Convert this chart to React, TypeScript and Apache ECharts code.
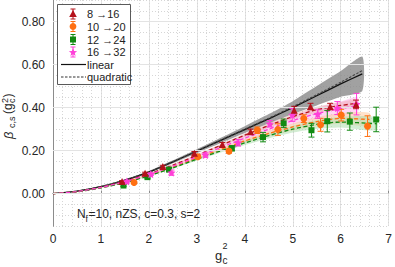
import React, { useEffect, useRef } from "react";
import * as echarts from "echarts";

// ---------- data ----------
const yMajorTicks = [0, 0.2, 0.4, 0.6, 0.8];

const redX = [1.44, 1.92, 2.29, 2.95, 3.53, 4.12, 5.03, 5.37, 5.78, 6.32];
const redY = [0.057, 0.095, 0.126, 0.188, 0.229, 0.288, 0.388, 0.405, 0.405, 0.415];
const redE = [0.004, 0.005, 0.006, 0.008, 0.009, 0.012, 0.018, 0.015, 0.015, 0.02];

const orangeX = [1.69, 3.02, 3.67, 4.26, 4.69, 5.23, 5.58, 6.01, 6.56];
const orangeY = [0.052, 0.172, 0.198, 0.295, 0.298, 0.349, 0.32, 0.365, 0.314];
const orangeE = [0.005, 0.008, 0.01, 0.015, 0.027, 0.018, 0.03, 0.027, 0.048];

const greenX = [1.47, 1.97, 2.42, 3.73, 4.38, 4.81, 5.39, 5.72, 6.19, 6.74];
const greenY = [0.038, 0.077, 0.112, 0.211, 0.263, 0.327, 0.295, 0.337, 0.335, 0.345];
const greenE = [0.004, 0.005, 0.007, 0.012, 0.022, 0.02, 0.032, 0.05, 0.04, 0.057];

const pinkX = [1.54, 2.04, 2.47, 3.18, 3.86, 4.52, 4.99, 5.52, 5.93, 6.33];
const pinkY = [0.057, 0.091, 0.098, 0.18, 0.237, 0.325, 0.366, 0.37, 0.398, 0.416];
const pinkE = [0.006, 0.006, 0.012, 0.01, 0.015, 0.015, 0.03, 0.02, 0.03, 0.05];

const fitX = [0, 0.5, 1, 1.5, 2, 2.5, 3, 3.5, 4, 4.5, 5, 5.5, 6, 6.45];
const linearFit = [0, 0.012, 0.033, 0.063, 0.1, 0.148, 0.198, 0.248, 0.298, 0.348, 0.4, 0.455, 0.51, 0.557];
const quadFit = [0, 0.012, 0.034, 0.064, 0.101, 0.149, 0.199, 0.25, 0.3, 0.351, 0.404, 0.46, 0.518, 0.572];
const grayBand = [0, 0.001, 0.002, 0.003, 0.005, 0.007, 0.009, 0.012, 0.016, 0.022, 0.03, 0.045, 0.06, 0.08];

const redFitX = [0, 0.5, 1, 1.5, 2, 2.5, 3, 3.5, 4, 4.5, 5, 5.5, 6, 6.35];
const redFit = [0, 0.01, 0.03, 0.058, 0.092, 0.133, 0.178, 0.225, 0.272, 0.317, 0.358, 0.39, 0.41, 0.42];
const redBand = [0, 0, 0.001, 0.002, 0.003, 0.004, 0.005, 0.006, 0.008, 0.01, 0.012, 0.014, 0.016, 0.018];

const pinkFitX = [0, 0.5, 1, 1.5, 2, 2.5, 3, 3.5, 4, 4.5, 5, 5.5, 6, 6.35];
const pinkFit = [0, 0.01, 0.029, 0.056, 0.089, 0.128, 0.171, 0.215, 0.258, 0.3, 0.34, 0.372, 0.395, 0.41];
const pinkBand = [0, 0, 0.001, 0.002, 0.003, 0.005, 0.007, 0.009, 0.012, 0.016, 0.02, 0.026, 0.033, 0.04];

const orangeFitX = [0, 0.5, 1, 1.5, 2, 2.5, 3, 3.5, 4, 4.5, 5, 5.5, 6, 6.6];
const orangeFit = [0, 0.009, 0.028, 0.054, 0.086, 0.124, 0.165, 0.206, 0.245, 0.28, 0.31, 0.335, 0.35, 0.345];
const orangeBand = [0, 0, 0.001, 0.002, 0.003, 0.004, 0.006, 0.008, 0.01, 0.013, 0.016, 0.02, 0.025, 0.03];

const greenFitX = [0, 0.5, 1, 1.5, 2, 2.5, 3, 3.5, 4, 4.5, 5, 5.5, 6, 6.75];
const greenFit = [0, 0.009, 0.027, 0.052, 0.083, 0.12, 0.16, 0.199, 0.236, 0.27, 0.3, 0.322, 0.333, 0.325];
const greenBand = [0, 0, 0.001, 0.002, 0.003, 0.004, 0.006, 0.008, 0.01, 0.013, 0.016, 0.02, 0.025, 0.03];

const legendLabels = ["8 \u219216", "10 \u219220", "12 \u219224", "16 \u219232", "linear", "quadratic"];

// ---------- styles ----------
const FONT = "Liberation Sans, Arial, sans-serif";
const RED = "#b5121b";
const ORANGE = "#ff7012";
const GREEN = "#128a12";
const PINK = "#ff3fd8";
const TXT = "#262626";
const STAR_PATH =
  "path://M0,-10 L2.94,-4.05 L9.51,-3.09 L4.76,1.55 L5.88,8.09 L0,5 L-5.88,8.09 L-4.76,1.55 L-9.51,-3.09 L-2.94,-4.05 Z";

function bandSeries(xs: number[], c: number[], h: number[], color: string, opacity: number) {
  return {
    type: "custom",
    silent: true,
    z: 2,
    clip: true,
    data: [[xs[0], c[0]]],
    encode: { x: 0, y: 1 },
    renderItem: (_p: any, api: any) => {
      const up = xs.map((x, i) => api.coord([x, c[i] + h[i]]));
      const lo = xs.map((x, i) => api.coord([x, c[i] - h[i]])).reverse();
      return { type: "polygon", shape: { points: up.concat(lo), smooth: 0.2 }, style: { fill: color, opacity } };
    },
  };
}

function lineSeries(xs: number[], ys: number[], color: string, width: number, dash: any, z: number) {
  return {
    type: "line",
    silent: true,
    z,
    symbol: "none",
    smooth: 0.25,
    data: xs.map((x, i) => [x, ys[i]]),
    lineStyle: { color, width, type: dash },
  };
}

function errSeries(xs: number[], ys: number[], es: number[], color: string) {
  return {
    type: "custom",
    silent: true,
    z: 5,
    data: xs.map((x, i) => [x, ys[i], es[i]]),
    encode: { x: 0, y: 1 },
    renderItem: (_p: any, api: any) => {
      const x = api.value(0);
      const y = api.value(1);
      const e = api.value(2);
      const t = api.coord([x, y + e]);
      const b = api.coord([x, y - e]);
      const w = 3;
      const st = { stroke: color, lineWidth: 1 };
      return {
        type: "group",
        children: [
          { type: "line", shape: { x1: t[0], y1: t[1], x2: b[0], y2: b[1] }, style: st },
          { type: "line", shape: { x1: t[0] - w, y1: t[1], x2: t[0] + w, y2: t[1] }, style: st },
          { type: "line", shape: { x1: b[0] - w, y1: b[1], x2: b[0] + w, y2: b[1] }, style: st },
        ],
      };
    },
  };
}

function scatterSeries(xs: number[], ys: number[], color: string, symbol: string, size: number) {
  return {
    type: "scatter",
    silent: true,
    z: 6,
    symbol,
    symbolSize: size,
    data: xs.map((x, i) => [x, ys[i]]),
    itemStyle: { color, opacity: 1 },
  };
}

function starPoints(cx: number, cy: number, r: number) {
  const pts: number[][] = [];
  for (let i = 0; i < 10; i++) {
    const a = -Math.PI / 2 + (i * Math.PI) / 5;
    const rr = i % 2 === 0 ? r : r * 0.42;
    pts.push([cx + rr * Math.cos(a), cy + rr * Math.sin(a)]);
  }
  return pts;
}

function legendElements() {
  const rows = [14, 26.5, 39.5, 52, 64.5, 77];
  const mx = 73;
  const Z = 100;
  const L = 57.5, T = 4.5, R = 130.5, B = 84.5;
  const els: any[] = [
    { type: "rect", z: Z - 1, shape: { x: L, y: T, width: R - L, height: B - T }, style: { fill: "#ffffff", stroke: "#5a5a5a", lineWidth: 1 } },
  ];
  const colors = [RED, ORANGE, GREEN, PINK];
  colors.forEach((c, i) => {
    const y = rows[i];
    const st = { stroke: c, lineWidth: 1 };
    els.push({ type: "line", z: Z + 1, shape: { x1: mx, y1: y - 5, x2: mx, y2: y + 5 }, style: st });
    els.push({ type: "line", z: Z + 1, shape: { x1: mx - 2.5, y1: y - 5, x2: mx + 2.5, y2: y - 5 }, style: st });
    els.push({ type: "line", z: Z + 1, shape: { x1: mx - 2.5, y1: y + 5, x2: mx + 2.5, y2: y + 5 }, style: st });
  });
  els.push({ type: "polygon", z: Z + 2, shape: { points: [[mx, rows[0] - 4], [mx + 3.8, rows[0] + 3], [mx - 3.8, rows[0] + 3]] }, style: { fill: RED } });
  els.push({ type: "circle", z: Z + 2, shape: { cx: mx, cy: rows[1], r: 3.4 }, style: { fill: ORANGE } });
  els.push({ type: "polygon", z: Z + 2, shape: { points: [[mx - 3, rows[2] - 3], [mx + 3, rows[2] - 3], [mx + 3, rows[2] + 3], [mx - 3, rows[2] + 3]] }, style: { fill: GREEN } });
  els.push({ type: "polygon", z: Z + 2, shape: { points: starPoints(mx, rows[3] + 0.5, 4.4) }, style: { fill: PINK } });
  els.push({ type: "line", z: Z + 1, shape: { x1: 61, y1: rows[4], x2: 86, y2: rows[4] }, style: { stroke: "#111", lineWidth: 1.2 } });
  els.push({ type: "line", z: Z + 1, shape: { x1: 61, y1: rows[5], x2: 86, y2: rows[5] }, style: { stroke: "#333", lineWidth: 1.2, lineDash: [2.5, 1.5] } });
  legendLabels.forEach((t, i) => {
    els.push({
      type: "text",
      z: Z + 2,
      x: 87,
      y: rows[i],
      style: { text: t, fontSize: 11, fontFamily: FONT, fill: "#222", verticalAlign: "middle", align: "left" },
    });
  });
  return els;
}

function txt(x: number, y: number, text: string, size: number, extra: any = {}) {
  return { type: "text", z: 100, x, y, style: { text, fontSize: size, fontFamily: FONT, fill: TXT, verticalAlign: "middle", ...extra } };
}

export default function App() {
  const ref = useRef<HTMLDivElement>(null);
  useEffect(() => {
    if (!ref.current) return;
    const chart = echarts.init(ref.current, null, { renderer: "svg" });
    const isMajorY = (v: number) => Math.abs(Math.round(v / 0.2) * 0.2 - v) < 1e-6;
    const option: any = {
      animation: false,
      grid: { left: 53, right: 3, top: 0, bottom: 41 },
      xAxis: [
        {
          type: "value",
          min: 0,
          max: 7,
          interval: 1,
          position: "bottom",
          axisLine: { show: true, lineStyle: { color: "#8c8c8c", width: 1 } },
          axisTick: { show: true, inside: true, length: 3, lineStyle: { color: "#8c8c8c" } },
          axisLabel: { fontSize: 12, color: TXT, fontFamily: FONT, margin: 7 },
          splitLine: { show: true, lineStyle: { color: "#e3e3e3", width: 1 } },
        },
        {
          type: "value",
          min: 0,
          max: 7,
          interval: 0.2,
          position: "top",
          axisLine: { show: true, lineStyle: { color: "#8c8c8c", width: 1 } },
          axisTick: { show: false },
          axisLabel: { show: false },
          splitLine: { show: true, lineStyle: { color: "#d6d6d6", width: 1, type: [1, 2] } },
        },
      ],
      yAxis: [
        {
          type: "value",
          min: -0.15,
          max: 0.9,
          interval: 0.05,
          position: "left",
          axisLine: { show: true, lineStyle: { color: "#8c8c8c", width: 1 } },
          axisTick: { show: false },
          axisLabel: {
            fontSize: 12,
            color: TXT,
            fontFamily: FONT,
            margin: 8,
            formatter: (v: number) => (isMajorY(v) ? (Math.abs(v) < 1e-9 ? 0 : v).toFixed(2) : ""),
          },
          splitLine: { show: true, lineStyle: { color: "#d6d6d6", width: 1, type: [1, 2] } },
        },
        {
          type: "value",
          min: -0.15,
          max: 0.9,
          interval: 0.05,
          position: "right",
          axisLine: { show: true, lineStyle: { color: "#8c8c8c", width: 1 } },
          axisTick: { show: false },
          axisLabel: { show: false },
          splitLine: { show: false },
        },
      ],
      series: [
        {
          type: "line",
          silent: true,
          z: 1,
          symbol: "none",
          data: [[0, 0]],
          lineStyle: { opacity: 0 },
          markLine: {
            silent: true,
            symbol: "none",
            label: { show: false },
            lineStyle: { color: "#e3e3e3", width: 1, type: "solid" },
            data: yMajorTicks.map((v) => ({ yAxis: v })),
          },
        },
        bandSeries(fitX, linearFit, grayBand, "#8a8a8a", 0.8),
        bandSeries(pinkFitX, pinkFit, pinkBand, "#ffb0ec", 0.5),
        bandSeries(redFitX, redFit, redBand, "#e89aa0", 0.4),
        bandSeries(orangeFitX, orangeFit, orangeBand, "#ffc89a", 0.5),
        bandSeries(greenFitX, greenFit, greenBand, "#a8dca8", 0.5),
        lineSeries(fitX, linearFit, "#111", 1.3, "solid", 3),
        lineSeries(fitX, quadFit, "#444", 1.1, [2.5, 1.5], 3),
        lineSeries(redFitX, redFit, RED, 1.3, [4, 2.5], 3),
        lineSeries(orangeFitX, orangeFit, ORANGE, 1.3, [4, 2.5], 3),
        lineSeries(greenFitX, greenFit, GREEN, 1.3, [4, 2.5], 3),
        lineSeries(pinkFitX, pinkFit, PINK, 1.3, [4, 2.5], 3),
        errSeries(greenX, greenY, greenE, GREEN),
        scatterSeries(greenX, greenY, GREEN, "rect", 6),
        errSeries(orangeX, orangeY, orangeE, ORANGE),
        scatterSeries(orangeX, orangeY, ORANGE, "circle", 7),
        errSeries(pinkX, pinkY, pinkE, PINK),
        scatterSeries(pinkX, pinkY, PINK, STAR_PATH, 8),
        errSeries(redX, redY, redE, RED),
        scatterSeries(redX, redY, RED, "triangle", 7),
      ],
      graphic: {
        elements: [
          ...legendElements(),
          txt(77, 214, "N", 12),
          txt(85.5, 219, "f", 8.5),
          txt(88.5, 214, "=10, nZS, c=0.3, s=2", 12),
          txt(215, 255, "g", 13),
          txt(222.5, 246, "2", 9),
          txt(222.5, 260.5, "c", 10),
          {
            type: "group",
            z: 100,
            x: 8,
            y: 139,
            rotation: Math.PI / 2,
            children: [
              txt(0, 0, "\u03b2", 13, { fontStyle: "italic" }),
              txt(11, 3.5, "c,s", 9),
              txt(25, 0, "(g", 12),
              txt(36, -3.5, "2", 9),
              txt(36, 3.5, "c", 9),
              txt(41.5, 0, ")", 12),
            ],
          },
        ],
      },
    };
    chart.setOption(option);
    return () => chart.dispose();
  }, []);
  return <div ref={ref} style={{ width: 395, height: 267, position: "absolute", left: 0, top: 0 }} />;
}
